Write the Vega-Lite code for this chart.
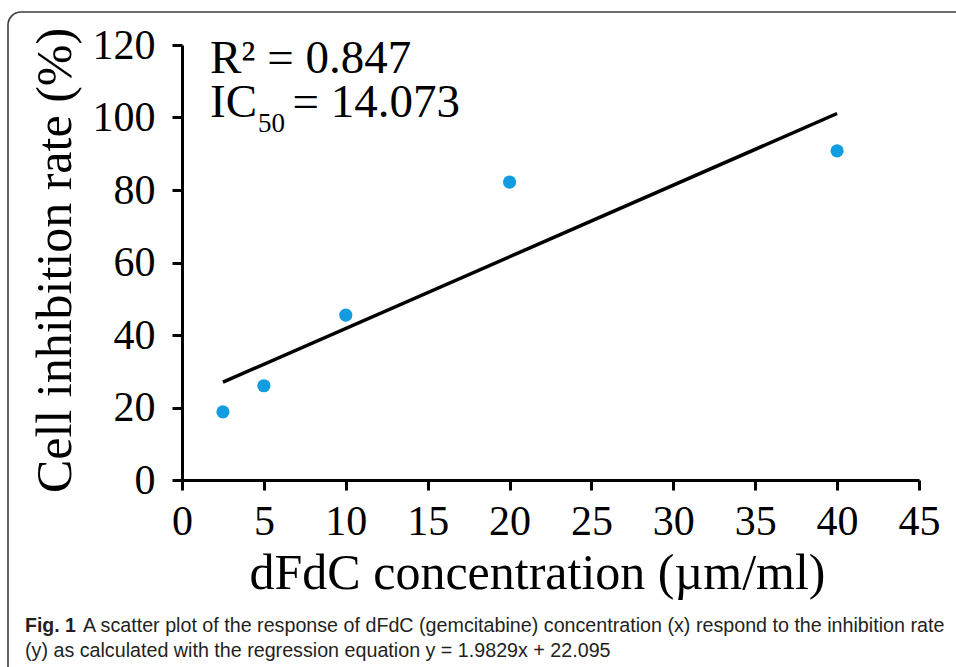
{
  "$schema": "https://vega.github.io/schema/vega-lite/v6.json",
  "width": 960,
  "height": 670,
  "autosize": {"type": "none"},
  "padding": {"left": 8, "top": 12, "right": -12, "bottom": -15},
  "background": "white",
  "config": {
    "view": {"stroke": "#3c3c3c", "strokeWidth": 1.6, "cornerRadius": 13},
    "axis": {
      "grid": false,
      "domainColor": "black",
      "domainWidth": 3,
      "tickColor": "black",
      "tickWidth": 3,
      "tickSize": 10,
      "labelFont": "Liberation Serif",
      "labelFontSize": 42,
      "labelColor": "black",
      "titleFont": "Liberation Serif",
      "titleFontSize": 50,
      "titleFontWeight": "normal",
      "titleColor": "black"
    }
  },
  "layer": [
    {
      "data": {"values": [{"conc": 2.5, "rate": 27.0}, {"conc": 40, "rate": 101.1}]},
      "mark": {"type": "line", "color": "black", "strokeWidth": 3.5},
      "encoding": {
        "x": {
          "field": "conc",
          "type": "quantitative",
          "scale": {"domain": [0, 45], "range": [174, 911], "nice": false, "zero": false},
          "axis": {
            "orient": "bottom",
            "offset": -202,
            "values": [0, 5, 10, 15, 20, 25, 30, 35, 40, 45],
            "title": "dFdC concentration (µm/ml)",
            "titleFont": "Liberation Serif",
            "titleFontSize": 50,
            "titleFontWeight": "normal",
            "labelPadding": 11,
            "labelFlush": false,
            "labelOverlap": false,
            "titleX": 529,
            "titleY": 108,
            "titleBaseline": "alphabetic",
            "titleAlign": "center"
          }
        },
        "y": {
          "field": "rate",
          "type": "quantitative",
          "scale": {"domain": [0, 120], "range": [468, 33], "nice": false, "zero": false},
          "axis": {
            "orient": "left",
            "offset": -174,
            "values": [0, 20, 40, 60, 80, 100, 120],
            "title": "Cell inhibition rate (%)",
            "titleFont": "Liberation Serif",
            "titleFontSize": 50,
            "titleFontWeight": "normal",
            "labelPadding": 17,
            "labelFlush": false,
            "labelOverlap": false,
            "titleX": -112,
            "titleY": 248,
            "titleAngle": -90,
            "titleBaseline": "alphabetic",
            "titleAlign": "center"
          }
        }
      }
    },
    {
      "data": {"values": [
        {"conc": 2.5, "rate": 18.8},
        {"conc": 5, "rate": 26.0},
        {"conc": 10, "rate": 45.5},
        {"conc": 20, "rate": 82.2},
        {"conc": 40, "rate": 90.8}
      ]},
      "mark": {"type": "point", "filled": true, "color": "#129de0", "opacity": 1, "size": 175},
      "encoding": {
        "x": {"field": "conc", "type": "quantitative"},
        "y": {"field": "rate", "type": "quantitative"}
      }
    },
    {
      "data": {"values": [{}]},
      "mark": {"type": "text", "text": "R² = 0.847", "font": "Liberation Serif", "fontSize": 47, "align": "left", "baseline": "alphabetic", "color": "black"},
      "encoding": {"x": {"datum": 1.71, "type": "quantitative"}, "y": {"datum": 112.3, "type": "quantitative"}}
    },
    {
      "data": {"values": [{}]},
      "mark": {"type": "text", "text": "IC", "font": "Liberation Serif", "fontSize": 47, "align": "left", "baseline": "alphabetic", "color": "black"},
      "encoding": {"x": {"datum": 1.71, "type": "quantitative"}, "y": {"datum": 100.1, "type": "quantitative"}}
    },
    {
      "data": {"values": [{}]},
      "mark": {"type": "text", "text": "50", "font": "Liberation Serif", "fontSize": 27, "align": "left", "baseline": "alphabetic", "color": "black"},
      "encoding": {"x": {"datum": 4.64, "type": "quantitative"}, "y": {"datum": 96.0, "type": "quantitative"}}
    },
    {
      "data": {"values": [{}]},
      "mark": {"type": "text", "text": "= 14.073", "font": "Liberation Serif", "fontSize": 47, "align": "left", "baseline": "alphabetic", "color": "black"},
      "encoding": {"x": {"datum": 6.75, "type": "quantitative"}, "y": {"datum": 100.1, "type": "quantitative"}}
    },
    {
      "data": {"values": [{}]},
      "mark": {"type": "text", "text": "Fig. 1", "font": "Liberation Sans", "fontSize": 19.5, "fontWeight": "bold", "align": "left", "baseline": "alphabetic", "color": "#231f20"},
      "encoding": {"x": {"datum": -9.585, "type": "quantitative"}, "y": {"datum": -41.9, "type": "quantitative"}}
    },
    {
      "data": {"values": [{}]},
      "mark": {"type": "text", "text": "A scatter plot of the response of dFdC (gemcitabine) concentration (x) respond to the inhibition rate", "font": "Liberation Sans", "fontSize": 19.7, "align": "left", "baseline": "alphabetic", "color": "#231f20"},
      "encoding": {"x": {"datum": -6.04, "type": "quantitative"}, "y": {"datum": -41.9, "type": "quantitative"}}
    },
    {
      "data": {"values": [{}]},
      "mark": {"type": "text", "text": "(y) as calculated with the regression equation y = 1.9829x + 22.095", "font": "Liberation Sans", "fontSize": 19.7, "align": "left", "baseline": "alphabetic", "color": "#231f20"},
      "encoding": {"x": {"datum": -9.585, "type": "quantitative"}, "y": {"datum": -48.83, "type": "quantitative"}}
    }
  ]
}
